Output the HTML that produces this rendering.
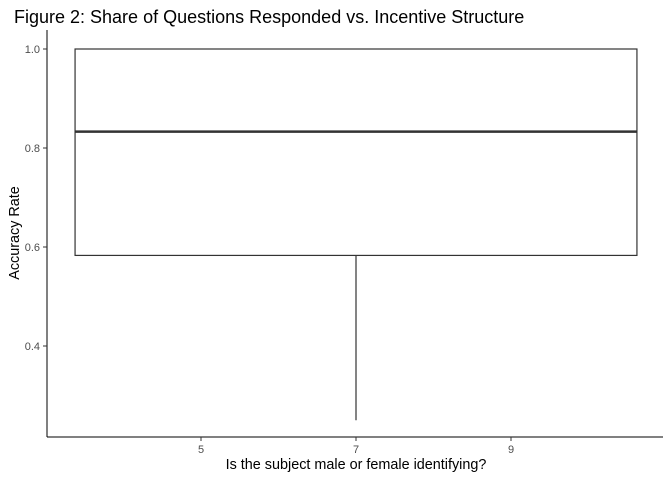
<!DOCTYPE html>
<html><head><meta charset="utf-8"><style>
body{margin:0;background:#fff}
svg text{font-family:"Liberation Sans",Arial,sans-serif}
</style></head><body>
<svg id="chart" width="672" height="480">
<text x="14" y="23" font-size="18" fill="#000">Figure 2: Share of Questions Responded vs. Incentive Structure</text>
<g id="plot"></g>
<text x="356" y="469" font-size="14.4" text-anchor="middle" fill="#000">Is the subject male or female identifying?</text>
<text transform="translate(19,233) rotate(-90)" font-size="14.4" text-anchor="middle" fill="#000">Accuracy Rate</text>
</svg>
<script>
const xTicks=[5,7,9];
const yTicks=[0.4,0.6,0.8,1.0];
const yTickLabels=["0.4","0.6","0.8","1.0"];
const boxCenter=[7];
const boxWidth=[7.25];
const boxMin=[0.25];
const boxQ1=[0.583];
const boxMedian=[0.833];
const boxQ3=[1.0];
const boxMax=[1.0];

const xs=v=>356+(v-7)*77.5;
const ys=v=>49+(1-v)*495;
const NS="http://www.w3.org/2000/svg";
const g=document.getElementById('plot');
function mk(t,a){const e=document.createElementNS(NS,t);for(const k in a)e.setAttribute(k,a[k]);g.appendChild(e);return e;}

let e=mk('line',{x1:47,y1:30,x2:47,y2:437,stroke:'#000','stroke-width':1});


e=mk('line',{x1:47,y1:437,x2:663,y2:437,stroke:'#000','stroke-width':1});



yTicks.forEach((v,i)=>{
  let t=mk('line',{x1:43,x2:47,y1:ys(v),y2:ys(v),stroke:'#333'});
  
  
  let l=mk('text',{x:40,y:ys(v)+4,'font-size':11,'text-anchor':'end',fill:'#4d4d4d'});
  l.textContent=yTickLabels[i];
  
  
});
xTicks.forEach(v=>{
  let t=mk('line',{x1:xs(v),x2:xs(v),y1:437,y2:441,stroke:'#333'});
  
  
  let l=mk('text',{x:xs(v),y:453,'font-size':11,'text-anchor':'middle',fill:'#4d4d4d'});
  l.textContent=v;
  
  
});

boxCenter.forEach((c,i)=>{
  const x0=xs(c-boxWidth[i]/2),x1=xs(c+boxWidth[i]/2),cx=xs(c);
  let w=mk('line',{x1:cx,x2:cx,y1:ys(boxQ1[i]),y2:ys(boxMin[i]),stroke:'#333','stroke-width':1.2});
  
  
  w=mk('line',{x1:cx,x2:cx,y1:ys(boxQ3[i]),y2:ys(boxMax[i]),stroke:'#333','stroke-width':1.2});
  
  
  let r=mk('rect',{x:x0,y:ys(boxQ3[i]),width:x1-x0,height:ys(boxQ1[i])-ys(boxQ3[i]),fill:'#fff',stroke:'#333','stroke-width':1.2});
  
  
  let m=mk('line',{x1:x0,x2:x1,y1:ys(boxMedian[i]),y2:ys(boxMedian[i]),stroke:'#333','stroke-width':2.5});
  
  
});
</script>
</body></html>
